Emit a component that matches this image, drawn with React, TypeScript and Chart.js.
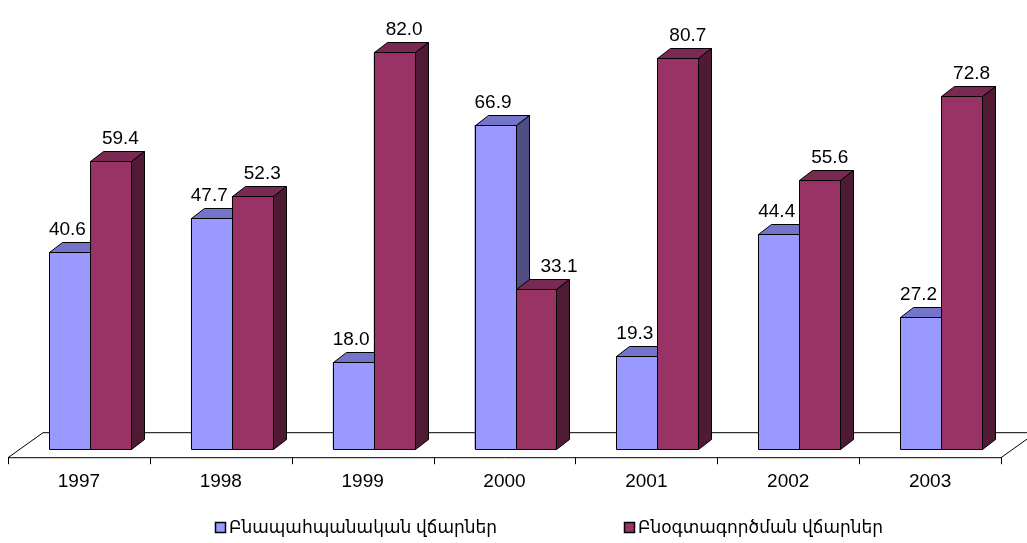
import React, { useEffect, useRef } from "react";
import { Chart, registerables } from "chart.js";

Chart.register(...registerables);

const categories = ["1997", "1998", "1999", "2000", "2001", "2002", "2003"];
const environmentalFees = [40.6, 47.7, 18.0, 66.9, 19.3, 44.4, 27.2];
const resourceFees = [59.4, 52.3, 82.0, 33.1, 80.7, 55.6, 72.8];
const seriesNames = ["Բնապահպանական վճարներ", "Բնօգտագործման վճարներ"];
const yMax = 90;

const FONT = '"Liberation Sans", Arial, "DejaVu Sans", sans-serif';
const frontColors = ["#9999FF", "#993366"];
const topColors = ["#7474C9", "#7A2952"];
const sideColors = ["#4F4F86", "#4E1A34"];

const DX = 13;
const DY = -10;

const bar3d = {
  id: "bar3d",
  beforeDatasetsDraw(chart: any) {
    const { ctx, chartArea } = chart;
    const { left, right, bottom } = chartArea;
    const fx = -11, fy = 8, bx = 24, by = -17;
    ctx.save();
    ctx.beginPath();
    ctx.moveTo(left + fx, bottom + fy + 0.5);
    ctx.lineTo(right + fx, bottom + fy + 0.5);
    ctx.lineTo(right + bx, bottom + by + 0.5);
    ctx.lineTo(left + bx, bottom + by + 0.5);
    ctx.closePath();
    ctx.fillStyle = "#ffffff";
    ctx.fill();
    ctx.strokeStyle = "#000000";
    ctx.lineWidth = 1;
    ctx.stroke();
    const n = categories.length;
    const w = (right - left) / n;
    ctx.beginPath();
    for (let k = 0; k <= n; k++) {
      const x = Math.round(left + fx + k * w) + 0.5;
      ctx.moveTo(x, bottom + fy);
      ctx.lineTo(x, bottom + fy + 7);
    }
    ctx.stroke();
    ctx.restore();
  },
  afterDatasetsDraw(chart: any) {
    const { ctx } = chart;
    ctx.save();
    ctx.lineWidth = 1;
    ctx.strokeStyle = "#000000";
    ctx.lineJoin = "miter";
    ctx.font = "19px " + FONT;
    const labels: any[] = [];
    for (let i = 0; i < categories.length; i++) {
      let prevRight = -Infinity;
      let prevTop = Infinity;
      for (let d = 0; d < chart.data.datasets.length; d++) {
        const meta = chart.getDatasetMeta(d);
        const el = meta.data[i];
        const { x, y, base, width } = el.getProps(["x", "y", "base", "width"], true);
        const l = Math.round(x - width / 2) + 0.5;
        const r = Math.round(x + width / 2) + 0.5;
        const t = Math.round(y) + 0.5;
        const b = Math.round(base) + 0.5;
        ctx.beginPath();
        ctx.rect(l, t, r - l, b - t);
        ctx.fillStyle = frontColors[d];
        ctx.fill();
        ctx.stroke();
        ctx.beginPath();
        ctx.moveTo(l, t);
        ctx.lineTo(r, t);
        ctx.lineTo(r + DX, t + DY);
        ctx.lineTo(l + DX, t + DY);
        ctx.closePath();
        ctx.fillStyle = topColors[d];
        ctx.fill();
        ctx.stroke();
        ctx.beginPath();
        ctx.moveTo(r, t);
        ctx.lineTo(r + DX, t + DY);
        ctx.lineTo(r + DX, b + DY);
        ctx.lineTo(r, b);
        ctx.closePath();
        ctx.fillStyle = sideColors[d];
        ctx.fill();
        ctx.stroke();
        const v = chart.data.datasets[d].data[i];
        const text = Number(v).toFixed(1);
        const tw = ctx.measureText(text).width;
        let lx = x + (d === 0 ? -2 : 10);
        if (y > prevTop) {
          // label would sit beside a taller neighbour: push it clear of its side face
          lx = Math.max(lx, prevRight + DX + 11 + tw / 2);
        }
        labels.push({ x: lx, y: y - 17, text });
        prevRight = r;
        prevTop = y;
      }
    }
    ctx.fillStyle = "#000000";
    ctx.textAlign = "center";
    ctx.textBaseline = "alphabetic";
    for (const lb of labels) ctx.fillText(lb.text, lb.x, lb.y);
    ctx.restore();
  },
  afterDraw(chart: any) {
    const { ctx } = chart;
    ctx.save();
    const boxX = [215, 624];
    const boxY = 522;
    ctx.font = "17px " + FONT;
    ctx.textAlign = "left";
    ctx.textBaseline = "middle";
    for (let d = 0; d < seriesNames.length; d++) {
      ctx.fillStyle = frontColors[d];
      ctx.fillRect(boxX[d] + 0.5, boxY + 0.5, 10, 10);
      ctx.strokeStyle = "#000000";
      ctx.lineWidth = 1.5;
      ctx.strokeRect(boxX[d] + 0.5, boxY + 0.5, 10, 10);
      ctx.fillStyle = "#000000";
      ctx.fillText(seriesNames[d], boxX[d] + 14, boxY + 6);
    }
    ctx.restore();
  },
};

export default function App() {
  const ref = useRef<HTMLCanvasElement>(null);
  useEffect(() => {
    if (!ref.current) return;
    const chart = new Chart(ref.current, {
      type: "bar",
      data: {
        labels: categories,
        datasets: [
          { label: seriesNames[0], data: environmentalFees, backgroundColor: frontColors[0], borderColor: "#000", borderWidth: 1 },
          { label: seriesNames[1], data: resourceFees, backgroundColor: frontColors[1], borderColor: "#000", borderWidth: 1 },
        ],
      },
      options: {
        responsive: false,
        devicePixelRatio: 1,
        animation: false,
        categoryPercentage: 0.578,
        barPercentage: 1,
        layout: { padding: { left: 19, right: 15, top: 13, bottom: 37 } },
        plugins: { legend: { display: false }, tooltip: { enabled: false } },
        scales: {
          x: {
            grid: { display: false },
            border: { display: false },
            ticks: {
              color: "#000",
              font: { family: FONT, size: 19 },
              padding: 13,
              labelOffset: -11,
              maxRotation: 0,
              autoSkip: false,
            },
          },
          y: { display: false, min: 0, max: yMax },
        },
      } as any,
      plugins: [bar3d],
    });
    return () => chart.destroy();
  }, []);
  return (
    <div style={{ position: "absolute", left: 0, top: 0, width: 1027, height: 543, background: "#fff" }}>
      <canvas ref={ref} width={1027} height={543} />
    </div>
  );
}
